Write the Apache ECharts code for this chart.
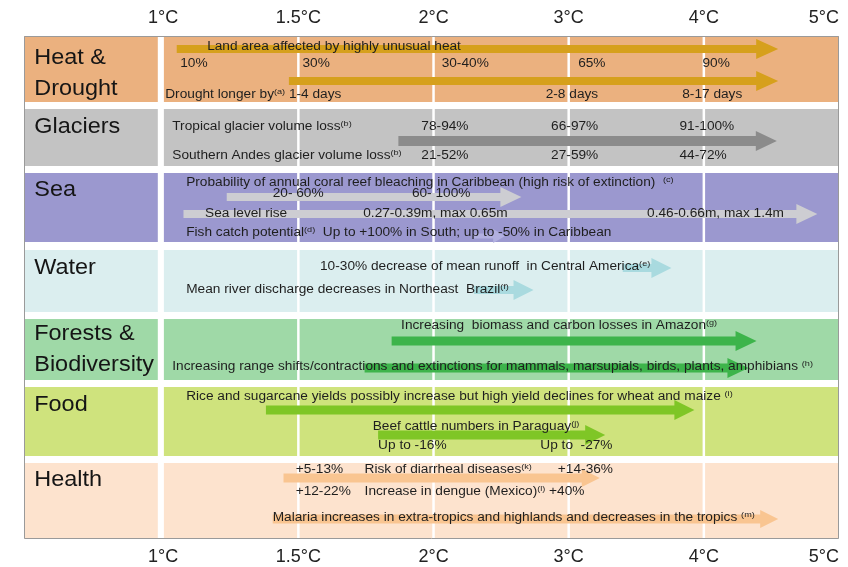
<!DOCTYPE html>
<html><head><meta charset="utf-8">
<script src="https://cdn.jsdelivr.net/npm/echarts@6/dist/echarts.min.js"></script>
<style>html,body{margin:0;padding:0;background:#fff}#c{width:848px;height:567px}</style>
</head><body><div id="c"></div><script>
// ---- data ----
const tempLabels = ['1°C','1.5°C','2°C','3°C','4°C','5°C'];
const tempPositions = [0,1,2,3,4,5];
const sectorNames = ['Heat &\nDrought','Glaciers','Sea','Water','Forests &\nBiodiversity','Food','Health'];
const sectorTop = [0,73,137,214,283,351,427];
const sectorBottom = [66,130,206,276,344,420,503];
const sectorLabelY = [37,91,154,232,313,369,444];

// arrows: start / end on the warming scale, lane within the panel
const arrowStart = [0.10,0.93,1.74,0.47,0.15,2.30,3.40,2.30,1.69,1.49,0.76,1.59,0.89,0.81];
const arrowEnd   = [4.55,4.55,4.54,2.65,4.84,2.53,3.76,2.74,4.39,4.33,3.93,3.27,3.23,4.55];
const arrowLane  = [13,45,105,161,178,200,232,254,305,332,374,399,442,483];
const arrowKind  = ['heat','heat','glacier','sea','sea','fish','water','water','forest','forest','food','food','health','health'];

// annotations
const noteText = [
 'Land area affected by highly unusual heat','10%','30%','30-40%','65%','90%',
 'Drought longer by{s|(a)} 1-4 days','2-8 days','8-17 days',
 'Tropical glacier volume loss{s|(b)}','78-94%','66-97%','91-100%',
 'Southern Andes glacier volume loss{s|(b)}','21-52%','27-59%','44-72%',
 'Probability of annual coral reef bleaching in Caribbean (high risk of extinction)  {s|(c)}',
 '20- 60%','60- 100%','Sea level rise','0.27-0.39m, max 0.65m','0.46-0.66m, max 1.4m',
 'Fish catch potential{s|(d)}  Up to +100% in South; up to -50% in Caribbean',
 '10-30% decrease of mean runoff  in Central America{s|(e)}',
 'Mean river discharge decreases in Northeast  Brazil{s|(f)}',
 'Increasing  biomass and carbon losses in Amazon{s|(g)}',
 'Increasing range shifts/contractions and extinctions for mammals, marsupials, birds, plants, amphibians {s|(h)}',
 'Rice and sugarcane yields possibly increase but high yield declines for wheat and maize {s|(i)}',
 'Beef cattle numbers in Paraguay{s|(j)}','Up to -16%','Up to  -27%',
 '+5-13%','Risk of diarrheal diseases{s|(k)}','+14-36%',
 '+12-22%','Increase in dengue (Mexico){s|(l)} +40%',
 'Malaria increases in extra-tropics and highlands and decreases in the tropics {s|(m)}'
];
const noteX = [0.325,0.126,1.03,2.06,3.07,3.99, 0.015,2.83,3.84,
 0.067,1.91,2.87,3.82, 0.067,1.91,2.87,3.82,
 0.17, 0.81,1.84,0.31,1.48,3.58, 0.17,
 1.16,0.17, 1.76,0.067, 0.17, 1.55,1.59,2.79,
 0.98,1.49,2.92, 0.98,1.49, 0.81];
const noteY = [11,28,28,28,28,28, 59,59,59,
 91,91,91,91, 120,120,120,120,
 147, 158,158,178,178,178, 197,
 231,254, 290,331, 361, 391,410,410,
 434,434,434, 456,456, 482];

// ---- styles ----
const sectorColors = ['#EBB17F','#C3C3C3','#9B98CF','#DBEEEF','#9FD9A7','#CFE37D','#FDE3CE'];
const arrowStyle = {
  heat:   {color:'#D6A01C', shaft:8,  head:20, len:22},
  glacier:{color:'#8B8B8B', shaft:10, head:20, len:21},
  sea:    {color:'#CDCDD2', shaft:8,  head:20, len:21},
  fish:   {color:'#B2B0E0', shaft:5,  head:14, len:12},
  water:  {color:'#A9DADF', shaft:8,  head:20, len:20},
  forest: {color:'#3DB44B', shaft:9,  head:20, len:21},
  food:   {color:'#7FC626', shaft:9,  head:20, len:20},
  health: {color:'#F9C591', shaft:9,  head:18, len:18}
};
const XMIN = -1.03, XMAX = 5, YMAX = 503;
const FONT = '"Liberation Sans", Arial, sans-serif';

const chart = echarts.init(document.getElementById('c'), null, {renderer:'canvas'});

const axisCommon = {
  type:'value', min:XMIN, max:XMAX,
  axisLine:{show:false}, axisTick:{show:false}, splitLine:{show:false},
  axisLabel:{customValues:tempPositions, formatter:v=>tempLabels[Math.round(v)],
    fontSize:18, color:'#222', fontFamily:FONT, margin:9, alignMaxLabel:'right'}
};

chart.setOption({
  animation:false,
  backgroundColor:'#fff',
  grid:{left:24,right:9,top:36,bottom:28},
  xAxis:[Object.assign({position:'bottom'},axisCommon), Object.assign({position:'top'},axisCommon)],
  yAxis:{type:'value', min:0, max:YMAX, inverse:true, show:false},
  series:[
    { // bands
      type:'custom', z:1, silent:true,
      data: sectorNames.map((n,i)=>[i, sectorTop[i], sectorBottom[i]]),
      renderItem:(p,api)=>{
        const i=api.value(0), t=api.value(1), b=api.value(2);
        const a=api.coord([XMIN,t]), c=api.coord([-0.04,b]);
        const d=api.coord([0.005,t]), e=api.coord([XMAX,b]);
        const s=api.coord([-0.954, sectorLabelY[i]]);
        return {type:'group', children:[
          {type:'rect', shape:{x:a[0],y:a[1],width:c[0]-a[0],height:c[1]-a[1]}, style:{fill:sectorColors[i]}},
          {type:'rect', shape:{x:d[0],y:d[1],width:e[0]-d[0],height:e[1]-d[1]}, style:{fill:sectorColors[i]}},
          {type:'text', x:s[0], y:s[1], scaleX:1.065, style:{text:sectorNames[i], x:0, y:0,
             fill:'#151515', font:'22px '+FONT, lineHeight:31, verticalAlign:'middle', align:'left'}}
        ]};
      }
    },
    { // gridlines
      type:'custom', z:2, silent:true,
      data:[[1],[2],[3],[4]],
      renderItem:(p,api)=>{
        const a=api.coord([api.value(0),0]), b=api.coord([api.value(0),YMAX]);
        return {type:'line', shape:{x1:a[0],y1:a[1],x2:b[0],y2:b[1]}, style:{stroke:'#ffffff', lineWidth:2.5}};
      }
    },
    { // arrows
      type:'custom', z:3, silent:true,
      data: arrowStart.map((s,i)=>[s, arrowEnd[i], arrowLane[i], i]),
      renderItem:(p,api)=>{
        const st=arrowStyle[arrowKind[api.value(3)]];
        const a=api.coord([api.value(0), api.value(2)]), b=api.coord([api.value(1), api.value(2)]);
        const y=a[1], x0=a[0], xt=b[0], xh=xt-st.len, sw=st.shaft/2, hh=st.head/2;
        return {type:'polygon', shape:{points:[[x0,y-sw],[xh,y-sw],[xh,y-hh],[xt,y],[xh,y+hh],[xh,y+sw],[x0,y+sw]]},
          style:{fill:st.color}};
      }
    },
    { // annotations
      type:'custom', z:4, silent:true,
      data: noteText.map((t,i)=>[noteX[i], noteY[i], i]),
      renderItem:(p,api)=>{
        const c=api.coord([api.value(0), api.value(1)]);
        return {type:'text', x:c[0], y:c[1], scaleX:1.14, style:{text:noteText[api.value(2)], x:0, y:0,
          fill:'#1e1e1e', font:'12px '+FONT, verticalAlign:'middle', align:'left',
          rich:{s:{fontSize:8, verticalAlign:'top', padding:[0,0,6,0], fill:'#1e1e1e', fontFamily:FONT}}}};
      }
    },
    { // border
      type:'custom', z:5, silent:true,
      data:[[0]],
      renderItem:(p,api)=>{
        const a=api.coord([XMIN,0]), b=api.coord([XMAX,YMAX]);
        return {type:'rect', shape:{x:a[0]+0.5,y:a[1]+0.5,width:b[0]-a[0]-1,height:b[1]-a[1]-1},
          style:{fill:null, stroke:'#9a9a9a', lineWidth:1}};
      }
    }
  ]
});
</script></body></html>
